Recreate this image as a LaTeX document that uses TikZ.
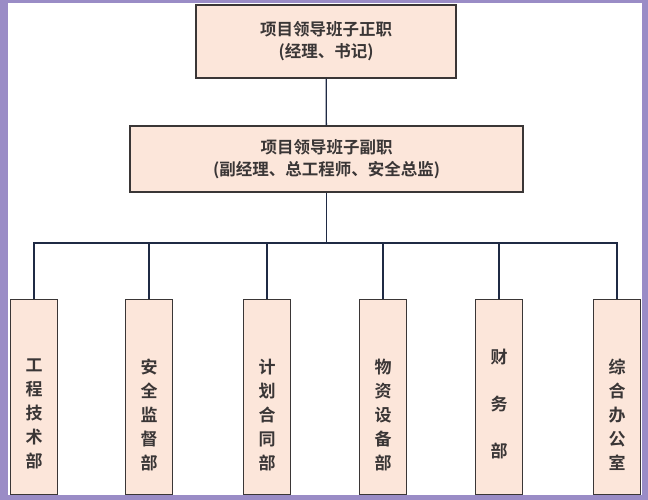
\documentclass[tikz,border=0pt]{standalone}
\usepackage{fontspec}
\newfontfamily\cjk{Noto Sans CJK SC Bold}
\usetikzlibrary{positioning}
\definecolor{peach}{HTML}{FCE6DA}
\definecolor{frame}{HTML}{9A8CC6}
\definecolor{edge}{HTML}{3A3636}
\definecolor{wire}{HTML}{1F2A44}
\tikzset{
  lead/.style = {rectangle, draw=edge, line width=1.3pt, fill=peach, align=center, font=\cjk\fontsize{16.5}{22}\selectfont, text=edge},
  dept/.style = {lead, minimum width=47pt, minimum height=195pt, anchor=south},
  tag/.style  = {align=center, text=edge, font=\cjk\fontsize{17}{24}\selectfont}
}
\tikzset{line/.style = {draw=wire, line width=1.3pt}}
\begin{document}
\begin{tikzpicture}[x=1pt, y=1pt]
    % Frame
    \fill [frame] (0,0) rectangle (648,500);
    \fill [white] (8,5) rectangle (642,497);
    \useasboundingbox (0,0) rectangle (648,500);
    % Place nodes
    \node [lead, minimum width=260pt, minimum height=73pt] (chief) at (326,458.5) {项目领导班子正职\\(经理、书记)};
    \node [lead, minimum width=393pt, minimum height=66pt] (deputy) at (326.5,341) {项目领导班子副职\\(副经理、总工程师、安全总监)};
    \node [dept] (d1) at (34,5) {};
    \node [dept] (d2) at (149,5) {};
    \node [dept] (d3) at (267,5) {};
    \node [dept] (d4) at (383,5) {};
    \node [dept] (d5) at (499,5) {};
    \node [dept] (d6) at (617,5) {};
    \node [tag, below=57pt of d1.north] {工\\程\\技\\术\\部};
    \node [tag, below=57pt of d2.north] {安\\全\\监\\督\\部};
    \node [tag, below=57pt of d3.north] {计\\划\\合\\同\\部};
    \node [tag, below=57pt of d4.north] {物\\资\\设\\备\\部};
    \node [tag, below=47pt of d5.north, font=\cjk\fontsize{17}{47}\selectfont] {财\\务\\部};
    \node [tag, below=57pt of d6.north] {综\\合\\办\\公\\室};
    \coordinate (bus) at (326.5,257);
    % Draw edges
    \path [line] (chief) -- (deputy);
    \path [line] (deputy) -- (bus);
    \path [line] (d1.north) |- (bus) -| (d6.north);
    \foreach \d in {d2,d3,d4,d5}
        \path [line] (\d.north) -- (\d.north |- bus);
\end{tikzpicture}
\end{document}
